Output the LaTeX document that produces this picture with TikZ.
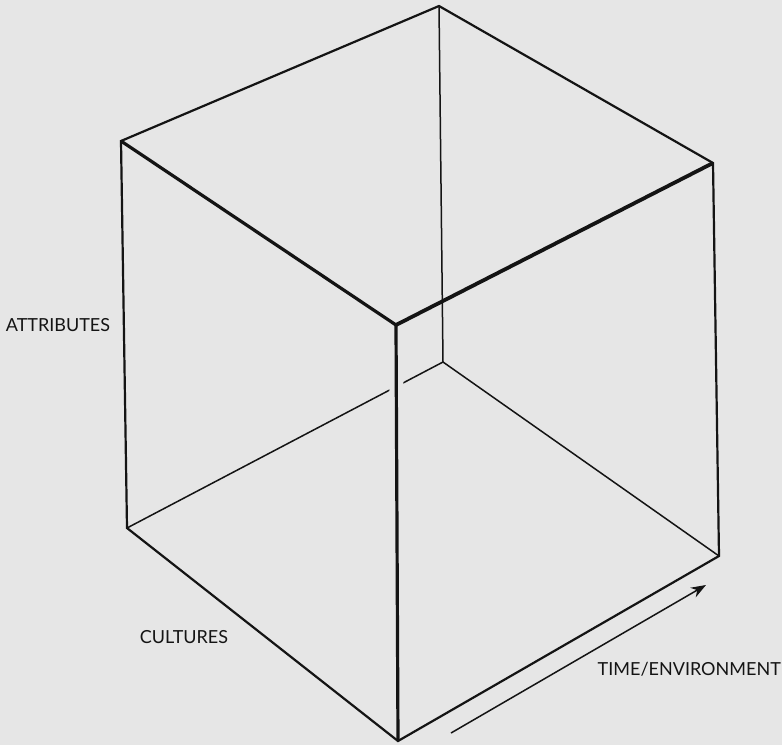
\documentclass[tikz,border=0pt]{standalone}
\usepackage{fontspec}
\setmainfont{Lato}
\usepackage{tikz}
\usetikzlibrary{arrows.meta, calc}
\usepackage{xcolor}
\definecolor{paper}{HTML}{E6E6E6}
\definecolor{ink}{HTML}{141414}
\tikzset{
  edge/.style={draw=ink, line width=2.2pt, line join=miter},
  frontedge/.style={draw=ink, line width=3.2pt},
  hidden/.style={draw=ink, line width=1.5pt},
  axislabel/.style={font=\fontsize{18}{18}\selectfont, text=ink, inner sep=0pt}
}

\begin{document}
\begin{tikzpicture}[x=1pt, y=-1pt]
        \fill[paper] (0,0) rectangle (782,745);
        \useasboundingbox (0,0) rectangle (782,745);
        % outer corners
        \coordinate (top) at (439,6);
        \coordinate (ul) at (121,141);
        \coordinate (ur) at (713,163);
        \coordinate (ll) at (127,528);
        \coordinate (lr) at (719,556);
        \coordinate (bot) at (398,741);
        % near and far corner
        \coordinate (front) at (396,325);
        \coordinate (back) at (443,362);
        % hidden edges
        \draw[hidden] (top) -- (back);
        \draw[hidden] (back) -- (lr);
        \draw[hidden] (ll) -- (back);
        \draw[paper, line width=14pt] ($(front)!0.12!(bot)$) -- ($(front)!0.19!(bot)$);
        % outline
        \draw[edge] (top) -- (ur) -- (lr) -- (bot) -- (ll) -- (ul) -- cycle;
        % front edges
        \draw[frontedge] (ul) -- (front);
        \draw[frontedge, line width=3.8pt] (front) -- (ur);
        \draw[frontedge] (front) -- (bot);
        % arrow
        \coordinate (tail) at (451,733);
        \coordinate (tip) at (706,585);
        \draw[hidden, -{Stealth[length=15pt, width=11pt]}] (tail) -- (tip);
        % labels
        \node[axislabel] (attr) at (58,325) {ATTRIBUTES};
        \node[axislabel] (cult) at (184,637) {CULTURES};
        \node[axislabel, anchor=east] (time) at (781,669) {TIME/ENVIRONMENT};
      \end{tikzpicture}
\end{document}
